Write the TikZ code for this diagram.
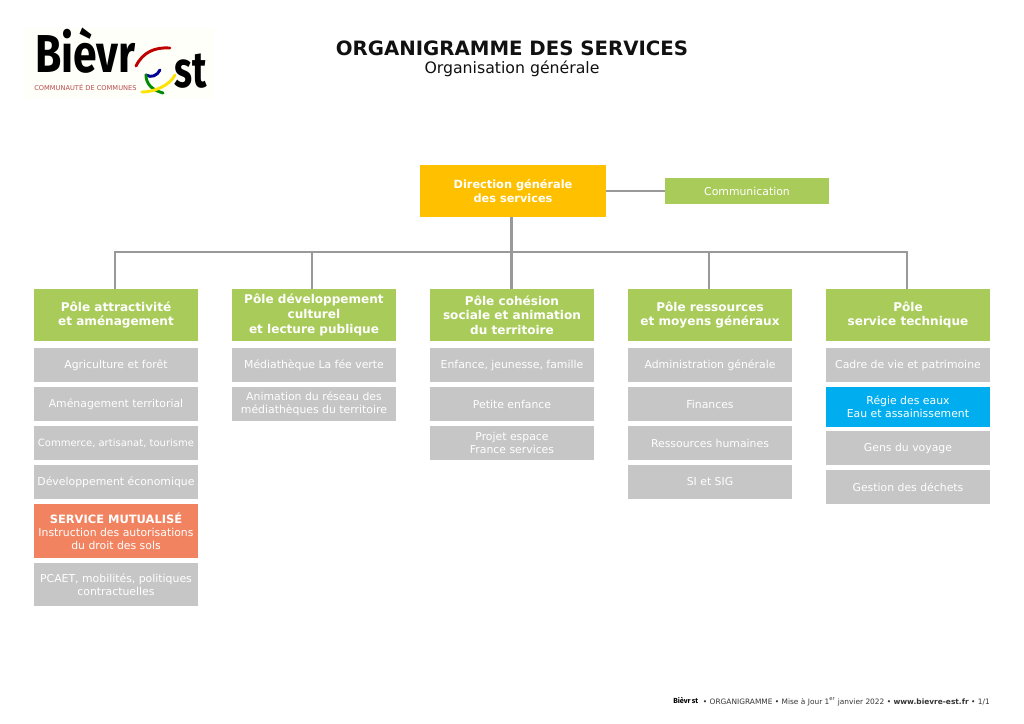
\documentclass[tikz,border=0pt]{standalone}
\usepackage{fontspec}
\setmainfont{DejaVu Sans}
\newfontfamily\logofont{Fira Sans}
\definecolor{pgreen}{HTML}{A9CB5A}
\definecolor{pgray}{HTML}{C6C6C6}
\definecolor{pgold}{HTML}{FFC000}
\definecolor{porange}{HTML}{F28360}
\definecolor{pblue}{HTML}{00AEEF}
\definecolor{pline}{HTML}{999999}
\definecolor{ptext}{HTML}{111111}
\tikzset{
  x=0.75pt,y=-0.75pt,
  boxbase/.style={anchor=north west,inner sep=0pt,outer sep=0pt,align=center,text=white,font=\fontsize{8.15}{9.8}\selectfont},
  polebox/.style={boxbase,fill=pgreen,minimum width=123pt,minimum height=39pt,font=\fontsize{9.05}{11}\selectfont\bfseries},
  svc/.style={boxbase,fill=pgray,minimum width=123pt,minimum height=25.5pt},
  svctall/.style={svc,minimum height=32.25pt},
  svcblue/.style={svc,fill=pblue,minimum height=30pt},
  svcorange/.style={svc,fill=porange,minimum height=40.5pt},
  conn/.style={draw=pline,line width=1.9pt},
  stroke/.style={line width=2.2pt,line cap=round},
  logotext/.style={inner sep=0pt,anchor=base west,text=black,transform shape,xscale=0.8},
}
\begin{document}
\begin{tikzpicture}
\useasboundingbox[fill=white] (0,0) rectangle (1024,724);
% logo
\fill[white!98!yellow] (24,28) rectangle (214,98);
\node[logotext] (logoa) at (35,73) {\logofont\fontsize{40}{40}\selectfont\bfseries Bièvr};
\node[logotext,xscale=0.92] (logob) at (174,88) {\logofont\fontsize{38}{38}\selectfont\bfseries st};
\node[inner sep=0pt,anchor=base west,text=red!60!black!70] (logoc) at (34,90) {\fontsize{5}{6}\selectfont COMMUNAUTÉ DE COMMUNES};
\draw[stroke,draw=red!75!black] (136,66) .. controls (143,52) and (155,47) .. (170,48);
\draw[stroke,draw=blue!60!black] (146,75) .. controls (151,78) and (157,76) .. (160,70);
\draw[stroke,draw=green!55!black] (146,75) .. controls (146,84) and (152,90) .. (163,93);
\draw[stroke,draw=yellow!85!orange] (142,92) .. controls (155,92) and (170,85) .. (175,75);
% titles
\node[inner sep=0pt,text=ptext,font=\fontsize{14.8}{16}\selectfont\bfseries] (title) at (512,48) {ORGANIGRAMME DES SERVICES};
\node[inner sep=0pt,text=ptext,font=\fontsize{11.8}{13}\selectfont] (subtitle) at (512,68.5) {Organisation générale};
% top
\node[boxbase,fill=pgold,minimum width=139.5pt,minimum height=39pt,font=\fontsize{8.5}{11}\selectfont\bfseries] (dg) at (420,165) {Direction générale\\des services};
\node[boxbase,fill=pgreen,minimum width=123pt,minimum height=19.5pt] (comm) at (665,178) {Communication};
% poles
\node[polebox] (p1) at (34,289) {Pôle attractivité\\et aménagement};
\node[polebox] (p2) at (232,289) {Pôle développement\\culturel\\et lecture publique};
\node[polebox] (p3) at (430,289) {Pôle cohésion\\sociale et animation\\du territoire};
\node[polebox] (p4) at (628,289) {Pôle ressources\\et moyens généraux};
\node[polebox] (p5) at (826,289) {Pôle\\service technique};
% column 1
\node[svc] (a1) at (34,348) {Agriculture et forêt};
\node[svc] (a2) at (34,387) {Aménagement territorial};
\node[svc,font=\fontsize{7.5}{9.8}\selectfont] (a3) at (34,426) {Commerce, artisanat, tourisme};
\node[svc] (a4) at (34,465) {Développement économique};
\node[svcorange] (a5) at (34,504) {{\fontsize{8.6}{9.8}\selectfont\bfseries SERVICE MUTUALISÉ}\\Instruction des autorisations\\du droit des sols};
\node[svctall] (a6) at (34,563) {PCAET, mobilités, politiques\\contractuelles};
% column 2
\node[svc] (b1) at (232,348) {Médiathèque La fée verte};
\node[svc] (b2) at (232,387) {Animation du réseau des\\médiathèques du territoire};
% column 3
\node[svc] (c1) at (430,348) {Enfance, jeunesse, famille};
\node[svc] (c2) at (430,387) {Petite enfance};
\node[svc] (c3) at (430,426) {Projet espace\\France services};
% column 4
\node[svc] (d1) at (628,348) {Administration générale};
\node[svc] (d2) at (628,387) {Finances};
\node[svc] (d3) at (628,426) {Ressources humaines};
\node[svc] (d4) at (628,465) {SI et SIG};
% column 5
\node[svc] (e1) at (826,348) {Cadre de vie et patrimoine};
\node[svcblue] (e2) at (826,387) {Régie des eaux\\Eau et assainissement};
\node[svc] (e3) at (826,431) {Gens du voyage};
\node[svc] (e4) at (826,470) {Gestion des déchets};
% connectors
\coordinate (bus) at (511.5,252);
\coordinate (t1) at ([xshift=-0.75pt]p1.north);
\coordinate (t2) at ([xshift=-1.5pt]p2.north);
\coordinate (t3) at ([xshift=-0.4pt]p3.north);
\coordinate (t4) at ([xshift=-0.75pt]p4.north);
\coordinate (t5) at ([xshift=-0.75pt]p5.north);
\draw[conn] (dg.east) -- (dg.east -| comm.west);
\draw[conn] (t3) -- (t3 |- dg.south);
\draw[conn,line join=miter] (t1) -- (t1 |- bus) -- (t5 |- bus) -- (t5);
\draw[conn] (t2) -- (t2 |- bus);
\draw[conn] (t4) -- (t4 |- bus);
% footer
\node[inner sep=0pt,anchor=base west,text=black] (flogo) at (673,703) {\logofont\fontsize{5.5}{5.5}\selectfont\bfseries Bièvr\,st};
\node[inner sep=0pt,anchor=base east,text=ptext!85,font=\fontsize{5.57}{6}\selectfont] (footer) at (990,704) {• ORGANIGRAMME • Mise à Jour 1\textsuperscript{er} janvier 2022 • \textbf{www.bievre-est.fr} • 1/1};
\end{tikzpicture}
\end{document}
